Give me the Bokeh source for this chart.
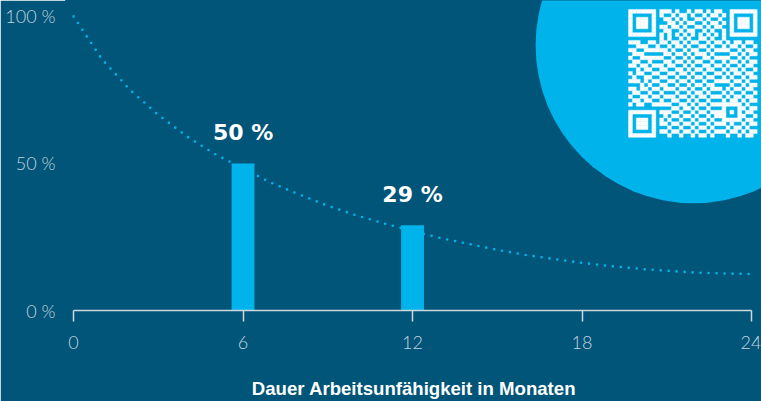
from bokeh.plotting import figure
from bokeh.models import Range1d, FixedTicker, ColumnDataSource
from bokeh.core.properties import value
from bokeh.embed import file_html
from bokeh.resources import INLINE

# ---------------- data ----------------
months = [0, 1, 2, 3, 4, 5, 6, 7, 8, 9, 10, 11, 12, 13, 14, 15, 16, 17, 18, 19, 20, 21, 22, 23, 24]
curve_pct = [100, 85.5, 75, 66.5, 59.3, 53.2, 48.3, 43.4, 39.4, 35.6, 32.4, 29.6, 27.0,
             24.6, 22.6, 20.6, 18.9, 17.5, 16.2, 15.1, 14.2, 13.5, 12.9, 12.6, 12.4]
bar_months = [6, 12]
bar_pct = [50, 29]
bar_labels = ["50 %", "29 %"]
x_ticks = [0, 6, 12, 18, 24]
y_ticks = [0, 50, 100]
y_tick_labels = {0: "0 %", 50: "50 %", 100: "100 %"}
x_title = "Dauer Arbeitsunfähigkeit in Monaten"

# QR pattern (1 = light module), function patterns overlaid below
qr_rows = [
    "101101001110100101101011010010110",
    "010011101001011010010110101101001",
    "110100110110101001101001011010110",
    "001011010011010110010110100101011",
    "101100101101101001101011011010010",
    "011010010110010110010100100101101",
    "100101101001101011101011010110010",
    "010110011010010100110100101001101",
    "111001101101101011001011010110110",
    "001110010010110100110100101101001",
    "110011011101001011001011110010110",
    "011100100110110101110100001101011",
    "100111011001001010011011110010100",
    "011001100110110101100100101101011",
    "110110011011001010011011010010110",
    "001011101100110101101100101101001",
    "101100010011011010010011010110110",
    "010011101100100101101100101001011",
    "111010010011011010010011110110100",
    "000101101100100101101100001001011",
    "110110010111011010010111010110110",
    "011001101000100101101000101001001",
    "100110010111011010110111010110110",
    "011011101001100101001000101101011",
    "101100011110011010110111010010100",
    "010011100001101101001000101101011",
    "111010011110010010110111010110110",
    "000101100101101101001011101001001",
    "110110011010010010110100010110110",
    "011001101101101101001011101001011",
    "100110010010010010110100010110100",
    "011011101101101101001011101101011",
    "101100010010010010110100010010110",
]

# ---------------- style ----------------
BG = "#005578"
LIGHT = "#00b4eb"
TICK_TXT = "#c3d3df"
AXIS_COL = "#cfd8df"
W, H = 761, 401
LEFT, BOTTOM = 66, 89
X0, X1 = -0.25, 24.354
Y0, Y1 = 0, 105.4

p = figure(width=W, height=H, x_range=Range1d(X0, X1), y_range=Range1d(Y0, Y1),
           output_backend="svg", toolbar_location=None,
           min_border_left=LEFT, min_border_right=0, min_border_top=0, min_border_bottom=BOTTOM,
           background_fill_color=BG, border_fill_color=BG,
           outline_line_color=BG, outline_line_width=3)
p.grid.visible = False

px_x = (W - LEFT) / (X1 - X0)
px_y = (H - BOTTOM) / (Y1 - Y0)

# decorative circle with QR code
circle_x, circle_y, circle_d = 21.95, 90.2, 316
p.scatter(x=[circle_x], y=[circle_y], size=circle_d, marker="circle",
          fill_color=LIGHT, line_color=None)

n = 33
grid = [[int(ch) for ch in (r + "0" * n)[:n]] for r in qr_rows[:n]]
def put_finder(r0, c0):
    for r in range(-1, 8):
        for c in range(-1, 8):
            rr, cc = r0 + r, c0 + c
            if 0 <= rr < n and 0 <= cc < n:
                if 0 <= r <= 6 and 0 <= c <= 6:
                    ring = max(abs(r - 3), abs(c - 3))
                    grid[rr][cc] = 1 if ring in (0, 1, 3) else 0
                else:
                    grid[rr][cc] = 0
put_finder(0, 0)
put_finder(0, n - 7)
put_finder(n - 7, 0)
for i in range(8, n - 8):
    grid[6][i] = 1 if i % 2 == 0 else 0
    grid[i][6] = 1 if i % 2 == 0 else 0
for r in range(-2, 3):
    for c in range(-2, 3):
        ring = max(abs(r), abs(c))
        grid[26 + r][26 + c] = 1 if ring in (0, 2) else 0

qr_left_px, qr_top_px, mod_px = 628, 9, 3.9
qx0 = X0 + (qr_left_px - LEFT) / px_x
qy0 = Y1 - qr_top_px / px_y
qx, qy = [], []
for r in range(n):
    for c in range(n):
        if grid[r][c]:
            qx.append(qx0 + (c + 0.5) * mod_px / px_x)
            qy.append(qy0 - (r + 0.5) * mod_px / px_y)
p.rect(x=qx, y=qy, width=mod_px, height=mod_px, width_units="screen", height_units="screen",
       fill_color="white", line_color="white", line_width=0.4)

# dotted decay curve
p.line(x=months, y=curve_pct, line_color=LIGHT, line_width=2.6,
       line_dash="0 8", line_cap="round")

# bars
src = ColumnDataSource(dict(x=bar_months, top=bar_pct, label=bar_labels))
p.vbar(x="x", top="top", bottom=0, width=0.81, source=src, fill_color=LIGHT, line_color=None)
p.text(x="x", y="top", text="label", source=src, text_align="center", text_baseline="alphabetic",
       y_offset=-31, text_color="white", text_font=value("DejaVu Sans"), text_font_style="bold",
       text_font_size="22px")

# axes
xa = p.xaxis[0]
xa.ticker = FixedTicker(ticks=x_ticks)
xa.bounds = (0, 24)
xa.axis_line_color = AXIS_COL
xa.axis_line_width = 1.5
xa.major_tick_line_color = AXIS_COL
xa.major_tick_line_width = 1.5
xa.major_tick_in = 0
xa.major_tick_out = 11
xa.minor_tick_line_color = None
xa.major_label_text_color = TICK_TXT
xa.major_label_text_font = "Lato Light"
xa.major_label_text_font_size = "18px"
xa.major_label_standoff = 14
xa.axis_label = x_title
xa.axis_label_text_color = "white"
xa.axis_label_text_font = "Liberation Sans"
xa.axis_label_text_font_style = "bold"
xa.axis_label_text_font_size = "18.6px"
xa.axis_label_standoff = 26

ya = p.yaxis[0]
ya.ticker = FixedTicker(ticks=y_ticks)
ya.major_label_overrides = y_tick_labels
ya.axis_line_color = None
ya.major_tick_line_color = None
ya.major_tick_in = 0
ya.major_tick_out = 0
ya.minor_tick_line_color = None
ya.minor_tick_out = 0
ya.major_label_text_color = TICK_TXT
ya.major_label_text_font = "Lato Light"
ya.major_label_text_font_size = "18px"
ya.major_label_standoff = 11

open("out.html", "w").write(file_html(p, INLINE))
